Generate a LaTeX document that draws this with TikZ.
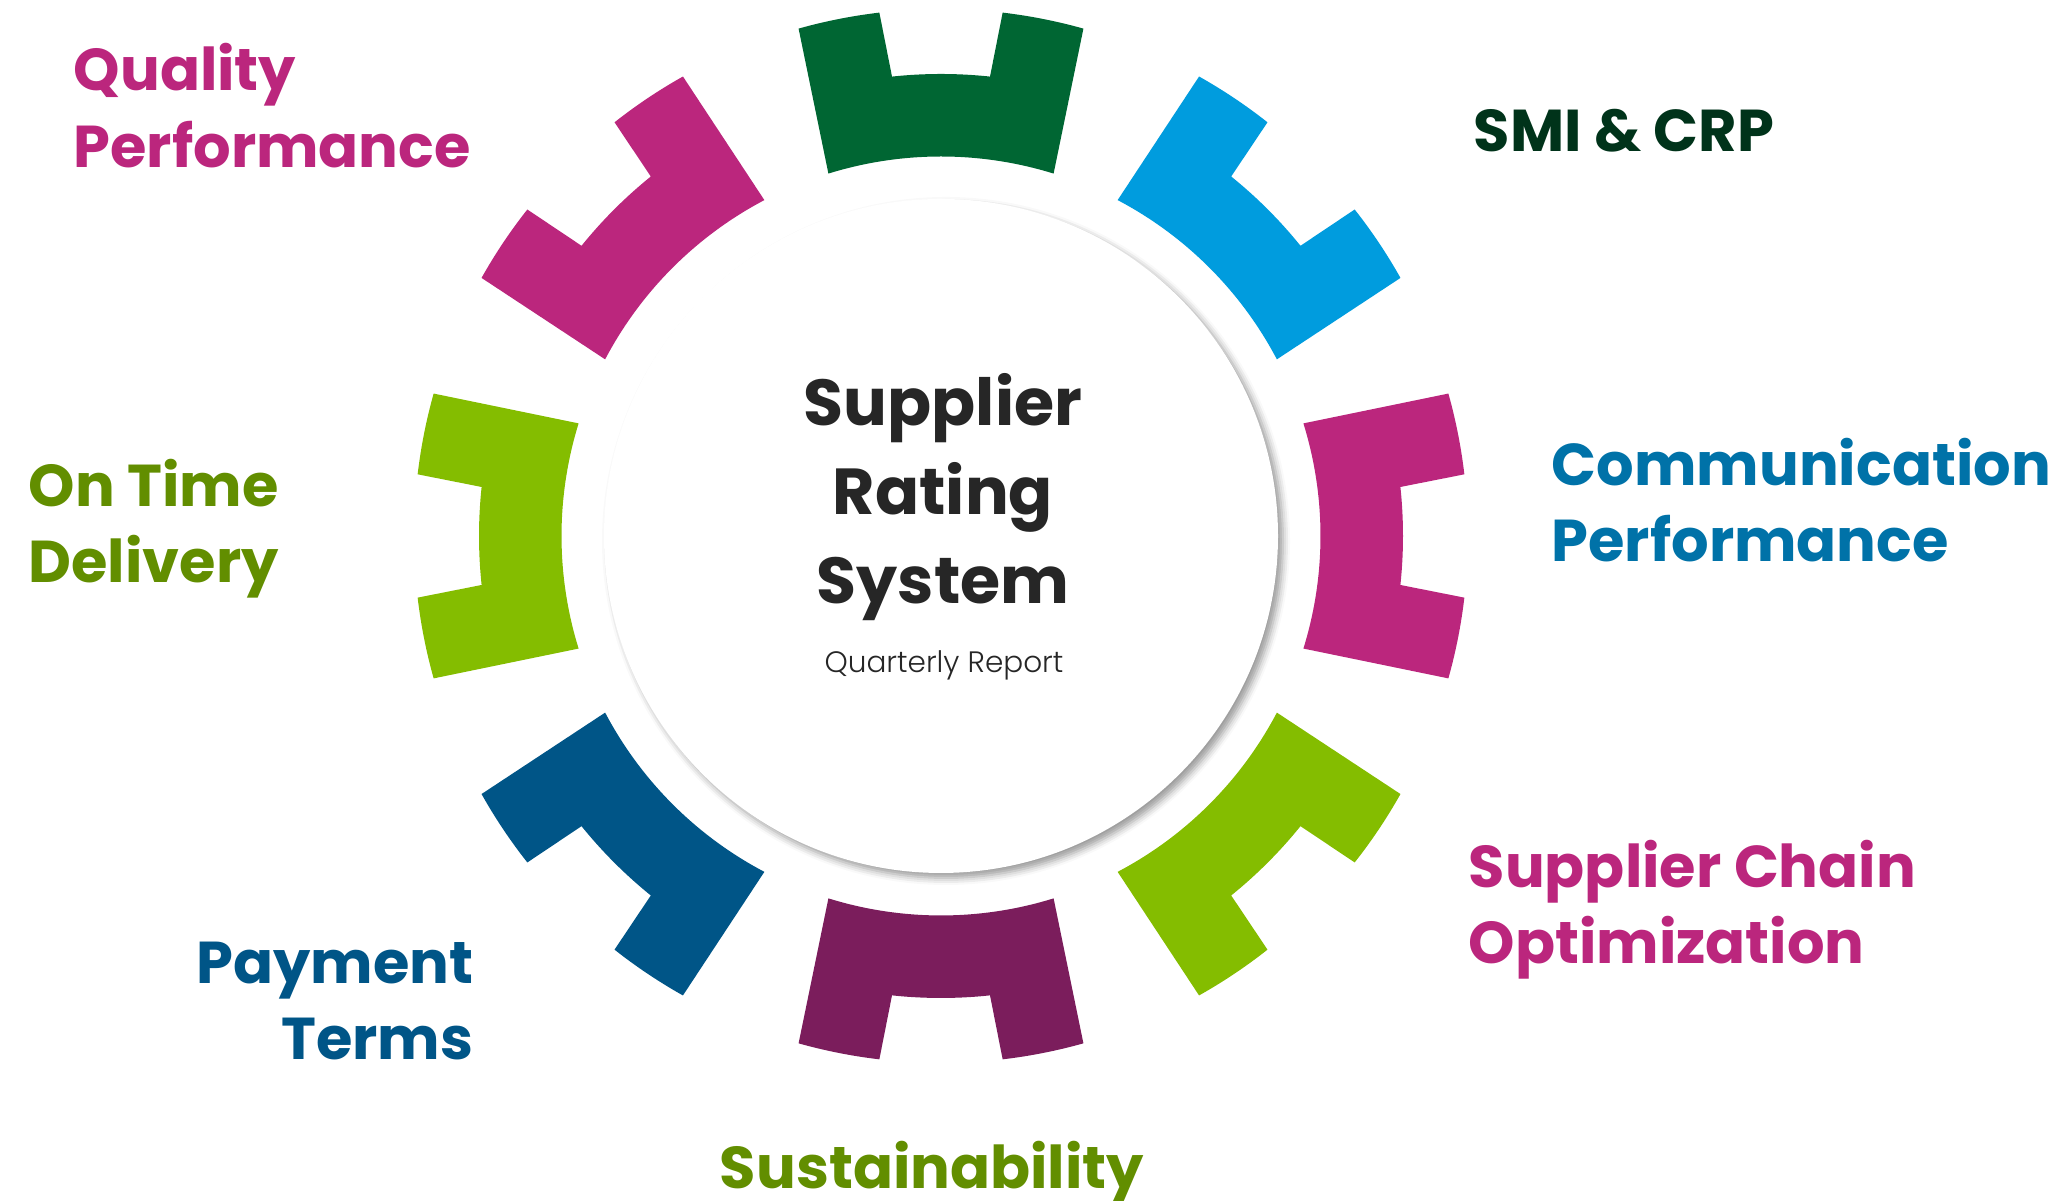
\documentclass[tikz,border=0pt]{standalone}
\usepackage{fontspec}
\setmainfont{Poppins}
\newfontfamily\poplight{Poppins Light}
\usepackage{xcolor}
\usetikzlibrary{shadows.blur}

\definecolor{cogGreen}{HTML}{006633}
\definecolor{cogSky}{HTML}{009CDE}
\definecolor{cogMagenta}{HTML}{BB267D}
\definecolor{cogLime}{HTML}{84BD00}
\definecolor{cogPlum}{HTML}{7B1D5C}
\definecolor{cogNavy}{HTML}{005587}
\definecolor{txtDarkGreen}{HTML}{00331A}
\definecolor{txtBlue}{HTML}{0072A8}
\definecolor{txtOlive}{HTML}{628E00}
\definecolor{txtGray}{HTML}{262626}

\begin{document}
\begin{tikzpicture}[
  x=0.1mm,y=0.1mm,
  hub/.style={circle,fill=white,minimum size=67.4mm,inner sep=0pt,
    blur shadow={shadow xshift=0.5mm,shadow yshift=-0.5mm,shadow blur radius=0.7mm,shadow opacity=40}},
  lbl/.style={font=\fontsize{16.8pt}{21.9pt}\selectfont\bfseries,inner sep=0pt},
  title/.style={font=\fontsize{18.5pt}{25.4pt}\selectfont\bfseries,inner sep=0pt,text=txtGray,align=center},
  sub/.style={font=\fontsize{8.4pt}{10pt}\selectfont\poplight,inner sep=0pt,text=txtGray}
]
\useasboundingbox (0,0) rectangle (2059,1201);

% cogs round the hub
\foreach \ang/\col in {90/cogGreen,45/cogSky,0/cogMagenta,-45/cogLime,
                       -90/cogPlum,-135/cogNavy,180/cogLime,135/cogMagenta}{
  \fill[\col,shift={(941,665)},rotate=\ang-90]
    (107.26:379.5) arc[start angle=107.26,end angle=72.74,radius=379.5]
    -- (74.32:527) arc[start angle=74.32,end angle=83.28,radius=527]
    -- (83.91:462) arc[start angle=83.91,end angle=96.09,radius=462]
    -- (96.72:527) arc[start angle=96.72,end angle=105.68,radius=527]
    -- cycle;
}

% hub and its texts
\node[hub] (hub) at (941,665) {};
\node[title,anchor=base] (title) at (943,597) {Supplier\\Rating\\System};
\node[sub,anchor=base] (report) at (944,528) {Quarterly Report};

% labels (base = last line)
\node[lbl,text=cogMagenta,align=left,anchor=base west] (quality) at (73,1033) {Quality\\Performance};
\node[lbl,text=txtDarkGreen,anchor=base west] (smi) at (1473,1049) {SMI \& CRP};
\node[lbl,text=txtBlue,align=left,anchor=base west] (comm) at (1551,639) {Communication\\Performance};
\node[lbl,text=txtOlive,align=left,anchor=base west] (ontime) at (28,618) {On Time\\Delivery};
\node[lbl,text=cogMagenta,align=left,anchor=base west] (chain) at (1468,237) {Supplier Chain\\Optimization};
\node[lbl,text=cogNavy,align=right,anchor=base east] (payment) at (474,141) {Payment\\Terms};
\node[lbl,text=txtOlive,anchor=base] (sustain) at (932,12) {Sustainability};
\end{tikzpicture}
\end{document}
